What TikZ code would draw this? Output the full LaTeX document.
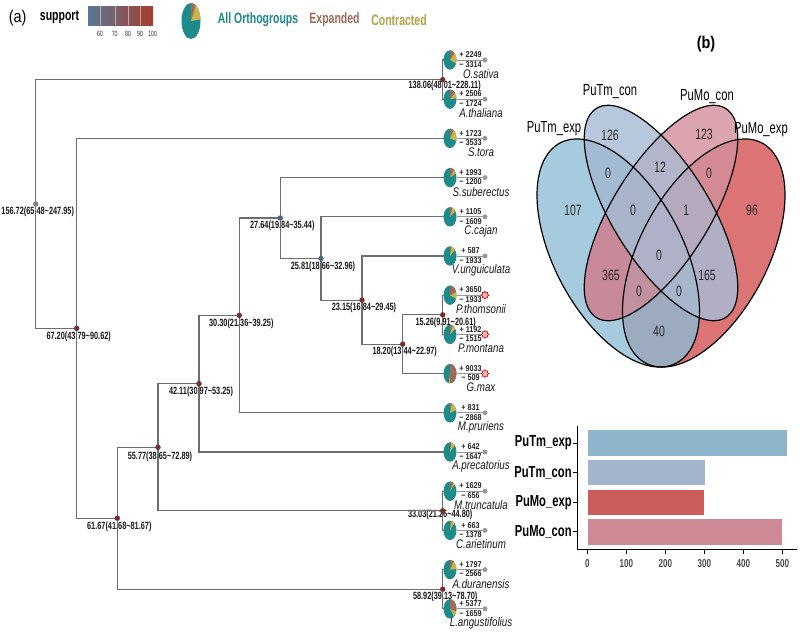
\documentclass[tikz,border=0pt]{standalone}
\usepackage{fontspec}
\setmainfont{Liberation Sans}
\newfontfamily\fN[FakeStretch=0.7]{Liberation Sans}
\newfontfamily\fT[FakeStretch=0.85]{Liberation Sans}
\newfontfamily\fS[FakeStretch=0.78]{Liberation Sans}
\usetikzlibrary{calc,shapes.geometric}
\definecolor{tealc}{HTML}{1D8A8C}
\definecolor{expc}{HTML}{A06A55}
\definecolor{conc}{HTML}{C8B44A}
\definecolor{brc}{HTML}{6E6E6E}
\definecolor{nred}{HTML}{7A2B2B}
\definecolor{nblue}{HTML}{4D6684}
\definecolor{ngrey}{HTML}{808080}
\definecolor{cbl}{HTML}{5A7895}
\definecolor{cbr}{HTML}{A63D2C}
\definecolor{vA}{HTML}{A7CBDE}
\definecolor{vB}{HTML}{B7C8DC}
\definecolor{vC}{HTML}{DCA4AF}
\definecolor{vD}{HTML}{DC7475}
\definecolor{vAB}{HTML}{A0BBD2}
\definecolor{vAC}{HTML}{C88A9A}
\definecolor{vAD}{HTML}{9CABBF}
\definecolor{vBC}{HTML}{B3B6CB}
\definecolor{vBD}{HTML}{B0AFC5}
\definecolor{vCD}{HTML}{D38A95}
\definecolor{vABC}{HTML}{A7B4CA}
\definecolor{vABD}{HTML}{A6B7CC}
\definecolor{vACD}{HTML}{C2919F}
\definecolor{vBCD}{HTML}{B5A9BD}
\definecolor{vABCD}{HTML}{AEB1C7}
\definecolor{bar1}{HTML}{8DB5CC}
\definecolor{bar2}{HTML}{A3B5CC}
\definecolor{bar3}{HTML}{CD5C5C}
\definecolor{bar4}{HTML}{CD8994}
\newcommand{\tld}{\textasciitilde}
\newcommand{\mypie}[5]{%
\begin{scope}[shift={#1}]
\fill[tealc] (0,0) ellipse [x radius=#2pt, y radius=#3pt];
\begin{scope}[xscale=#2/10, yscale=#3/10]
\fill[expc] (0,0) -- (90:10pt) arc[start angle=90, end angle={90-#4}, radius=10pt] -- cycle;
\fill[conc] (0,0) -- ({90-#4}:10pt) arc[start angle={90-#4}, end angle={90-#4-#5}, radius=10pt] -- cycle;
\end{scope}
\end{scope}}
\newcommand{\EllA}[2]{#1[#2, rotate around={-45:(35pt,47pt)}] (35pt,47pt) ellipse [x radius=35pt, y radius=20pt];}
\newcommand{\EllB}[2]{#1[#2, rotate around={-45:(50pt,57pt)}] (50pt,57pt) ellipse [x radius=35pt, y radius=15pt];}
\newcommand{\EllC}[2]{#1[#2, rotate around={45:(50pt,57pt)}] (50pt,57pt) ellipse [x radius=35pt, y radius=15pt];}
\newcommand{\EllD}[2]{#1[#2, rotate around={45:(65pt,47pt)}] (65pt,47pt) ellipse [x radius=35pt, y radius=20pt];}
\begin{document}
\begin{tikzpicture}[x=1pt,y=-1pt,
 branch/.style={draw=brc, line width=1.1pt},
 ndot/.style={circle, inner sep=0pt, minimum size=5.4pt},
 agelab/.style={font=\fN\bfseries\fontsize{10.5}{12}\selectfont, text=black!90, inner sep=0pt},
 tipnum/.style={font=\fT\bfseries\fontsize{8.5}{10}\selectfont, inner sep=0pt, text=black!85},
 spname/.style={font=\fS\itshape\fontsize{12.5}{14}\selectfont, inner sep=0pt, text=black!90},
 tipline/.style={draw=black!40, line width=1pt},
 greydot/.style={circle, fill=black!40, inner sep=0pt, minimum size=5pt},
 redicon/.style={star, star points=8, star point ratio=1.5, draw=red!75!black, fill=red!30, line width=0.5pt, inner sep=0pt, minimum size=8pt},
 vnum/.style={font=\fN\fontsize{15}{17}\selectfont, inner sep=0pt, text=black!85},
 vlab/.style={font=\fN\fontsize{16}{18}\selectfont, inner sep=0pt},
 barlab/.style={font=\fN\bfseries\fontsize{16}{18}\selectfont, inner sep=0pt, anchor=east},
 ticklab/.style={font=\fN\bfseries\fontsize{11.5}{13}\selectfont, text=black!70, inner sep=0pt},
 axisline/.style={draw=black, line width=1.3pt},
]
\fill[white] (0,0) rectangle (800,635);
\useasboundingbox (0,0) rectangle (800,635);

% ---------- legend ----------
\node[font=\fT\fontsize{17}{19}\selectfont, inner sep=0pt] (la) at (17.7,18) {(a)};
\node[font=\fN\bfseries\fontsize{15}{17}\selectfont, inner sep=0pt] (sup) at (59.5,17.5) {support};
\shade[left color=cbl, right color=cbr] (88,6) rectangle (153,25);
\foreach \xx in {100,114.7,128,140} \draw[white, line width=0.4pt, opacity=0.5] (\xx,6) -- (\xx,25);
\foreach \xx/\tt in {100/60,114.7/70,128/80,140/90,152.7/100}
  \node[font=\fN\fontsize{7.5}{9}\selectfont, inner sep=0pt, text=black!80] at (\xx,34) {\tt};
\mypie{(191,21)}{9.5}{18}{30}{55}
\node[font=\fN\bfseries\fontsize{15}{17}\selectfont, text=tealc, inner sep=0pt] (lg1) at (258,20) {All Orthogroups};
\node[font=\fN\bfseries\fontsize{15}{17}\selectfont, text=expc, inner sep=0pt] (lg2) at (334.5,20) {Expanded};
\node[font=\fN\bfseries\fontsize{15}{17}\selectfont, text=conc!90!black, inner sep=0pt] (lg3) at (399,20) {Contracted};
\node[font=\fT\bfseries\fontsize{17}{19}\selectfont, inner sep=0pt] (lb) at (706,44) {(b)};

% ---------- tree coordinates ----------
\foreach \k in {0,...,14} \coordinate (t\k) at (450,{60+39.2*\k});
\coordinate (root) at (35.7,204);
\coordinate (n138) at (442.7,79.6);
\coordinate (n1526) at (442.7,314.8);
\coordinate (n1820) at (402.7,344.2);
\coordinate (n2315) at (362,300.1);
\coordinate (n2581) at (321,258.5);
\coordinate (n2764) at (280.3,218);
\coordinate (n3030) at (239.3,315.4);
\coordinate (n4211) at (199,383.7);
\coordinate (n3303) at (442.7,510.8);
\coordinate (n5577) at (158,447.3);
\coordinate (n5892) at (442.7,589.2);
\coordinate (n6167) at (117.3,518.2);
\coordinate (n6720) at (76.7,328.3);

% ---------- age labels ----------
\node[agelab] at ($(root)+(2,8)$) {156.72(65.48\tld247.95)};
\node[agelab] at ($(n6720)+(2,8)$) {67.20(43.79\tld90.62)};
\node[agelab] at ($(n6167)+(2,8.5)$) {61.67(41.68\tld81.67)};
\node[agelab] at ($(n5577)+(2,9)$) {55.77(38.65\tld72.89)};
\node[agelab] at ($(n4211)+(2,8.5)$) {42.11(30.97\tld53.25)};
\node[agelab] at ($(n3030)+(2,8.3)$) {30.30(21.36\tld39.25)};
\node[agelab] at ($(n2764)+(2,8)$) {27.64(19.84\tld35.44)};
\node[agelab] at ($(n2581)+(2,8)$) {25.81(18.66\tld32.96)};
\node[agelab] at ($(n2315)+(2,8)$) {23.15(16.84\tld29.45)};
\node[agelab] at ($(n1820)+(2,8)$) {18.20(13.44\tld22.97)};
\node[agelab] at ($(n1526)+(3,8)$) {15.26(9.91\tld20.61)};
\node[agelab] at ($(n138)+(2,6)$) {138.06(48.01\tld228.11)};
\node[agelab] at ($(n3303)+(-2.5,4)$) {33.03(21.26\tld44.80)};
\node[agelab] at ($(n5892)+(2.5,8)$) {58.92(39.13\tld78.70)};

% ---------- branches ----------
\foreach \a/\b in {root/n138, root/n6720, n138/t0, n138/t1, n6720/t2, n6720/n6167,
  n6167/n5577, n6167/n5892, n5577/n4211, n5577/n3303, n4211/n3030, n4211/t10,
  n3030/n2764, n3030/t9, n2764/t3, n2764/n2581, n2581/t4, n2581/n2315,
  n2315/t5, n2315/n1820, n1820/n1526, n1820/t8, n1526/t6, n1526/t7,
  n3303/t11, n3303/t12, n5892/t13, n5892/t14}
  \draw[branch] (\a) |- (\b);

% ---------- node dots ----------
\node[ndot, fill=ngrey] at (root) {};
\foreach \n in {n138,n1526,n1820,n2315,n3030,n4211,n3303,n5577,n5892,n6167,n6720}
  \node[ndot, fill=nred] at (\n) {};
\node[ndot, fill=nblue] at (n2764) {};
\node[ndot, fill=nblue] at (n2581) {};

% ---------- tips ----------
\foreach \p/\m/\s/\ic [count=\k from 0] in {
 2249/3314/O.sativa/0, 2506/1724/A.thaliana/0, 1723/3533/S.tora/0,
 1993/1200/S.suberectus/0, 1105/1609/C.cajan/0, 587/1933/V.unguiculata/0,
 3650/1933/P.thomsonii/1, 1192/1515/P.montana/1, 9033/509/G.max/1,
 831/2868/M.pruriens/0, 642/1647/A.precatorius/0, 1629/656/M.truncatula/0,
 663/1378/C.arietinum/0, 1797/2566/A.duranensis/0, 5377/1659/L.angustifolius/0}{
 \pgfmathsetmacro\yy{60+39.2*\k}
 \coordinate (pe\k) at (456.5,\yy);
 \coordinate (de\k) at (485,\yy);
 \draw[tipline] (pe\k) -- (de\k);
 \ifnum\ic=1
   \node[redicon] at (de\k) {};
 \else
   \node[greydot] at (de\k) {};
 \fi
 \mypie{(450,\yy)}{6.5}{9.7}{\p/50}{\m/50}
 \node[tipnum] at (470.5,\yy-5.2) {+ \p};
 \node[tipnum] at (470.5,\yy+4.4) {− \m};
 \node[spname] at (481,\yy+14) {\s};
}

% ---------- Venn ----------
\begin{scope}[shift={(518.5,441)}, cm={2.85,0,0,4,(0,0)}]
\EllA{\fill}{fill=vA}
\EllB{\fill}{fill=vB}
\EllC{\fill}{fill=vC}
\EllD{\fill}{fill=vD}
\begin{scope}\EllA{\clip}{}\EllB{\fill}{fill=vAB}\end{scope}
\begin{scope}\EllA{\clip}{}\EllC{\fill}{fill=vAC}\end{scope}
\begin{scope}\EllA{\clip}{}\EllD{\fill}{fill=vAD}\end{scope}
\begin{scope}\EllB{\clip}{}\EllC{\fill}{fill=vBC}\end{scope}
\begin{scope}\EllB{\clip}{}\EllD{\fill}{fill=vBD}\end{scope}
\begin{scope}\EllC{\clip}{}\EllD{\fill}{fill=vCD}\end{scope}
\begin{scope}\EllA{\clip}{}\EllB{\clip}{}\EllC{\fill}{fill=vABC}\end{scope}
\begin{scope}\EllA{\clip}{}\EllB{\clip}{}\EllD{\fill}{fill=vABD}\end{scope}
\begin{scope}\EllA{\clip}{}\EllC{\clip}{}\EllD{\fill}{fill=vACD}\end{scope}
\begin{scope}\EllB{\clip}{}\EllC{\clip}{}\EllD{\fill}{fill=vBCD}\end{scope}
\begin{scope}\EllA{\clip}{}\EllB{\clip}{}\EllC{\clip}{}\EllD{\fill}{fill=vABCD}\end{scope}
\EllA{\draw}{line width=1.2pt}
\EllB{\draw}{line width=1.2pt}
\EllC{\draw}{line width=1.2pt}
\EllD{\draw}{line width=1.2pt}
\end{scope}
\node[vlab] (v1) at (554,128.5) {PuTm\_exp};
\node[vlab] (v2) at (610,92) {PuTm\_con};
\node[vlab] (v3) at (707,97) {PuMo\_con};
\node[vlab] (v4) at (761,129.5) {PuMo\_exp};
\foreach \xx/\yy/\tt in {610/135/126, 704/134/123, 573/210/107, 608/173/0, 660/167/12,
  709/173/0, 752/210/96, 633/210/0, 686/210/1, 659/255/0, 611/275/365, 707/275/165,
  639/291/0, 679/291/0, 659/331/40}
  \node[vnum] at (\xx,\yy) {\tt};

% ---------- bar chart ----------
\fill[bar1, draw=white, line width=1pt] (587.3,429.3) rectangle (787.4,456);
\fill[bar2, draw=white, line width=1pt] (587.3,459.3) rectangle (705.1,485.7);
\fill[bar3, draw=white, line width=1pt] (587.3,489) rectangle (704.3,515.3);
\fill[bar4, draw=white, line width=1pt] (587.3,518.7) rectangle (782.7,545);
\coordinate (ytop) at (577.3,426);
\coordinate (ax0) at (577.3,549.3);
\coordinate (xend) at (797,549.3);
\draw[axisline] (ytop) -- (ax0) -- (xend);
\foreach \v in {0,100,...,500} {
  \draw[black, line width=1pt] ({587.3+0.39*\v},549.3) -- ++(0,4.2);
  \node[ticklab] at ({587.3+0.39*\v},563.5) {\v};
}
\foreach \yy/\tt in {443/PuTm\_exp, 472.5/PuTm\_con, 502.2/PuMo\_exp, 531.9/PuMo\_con} {
  \draw[black, line width=1pt] (573.3,\yy) -- (577.3,\yy);
  \node[barlab] at (571.8,\yy) {\tt};
}
\end{tikzpicture}
\end{document}
